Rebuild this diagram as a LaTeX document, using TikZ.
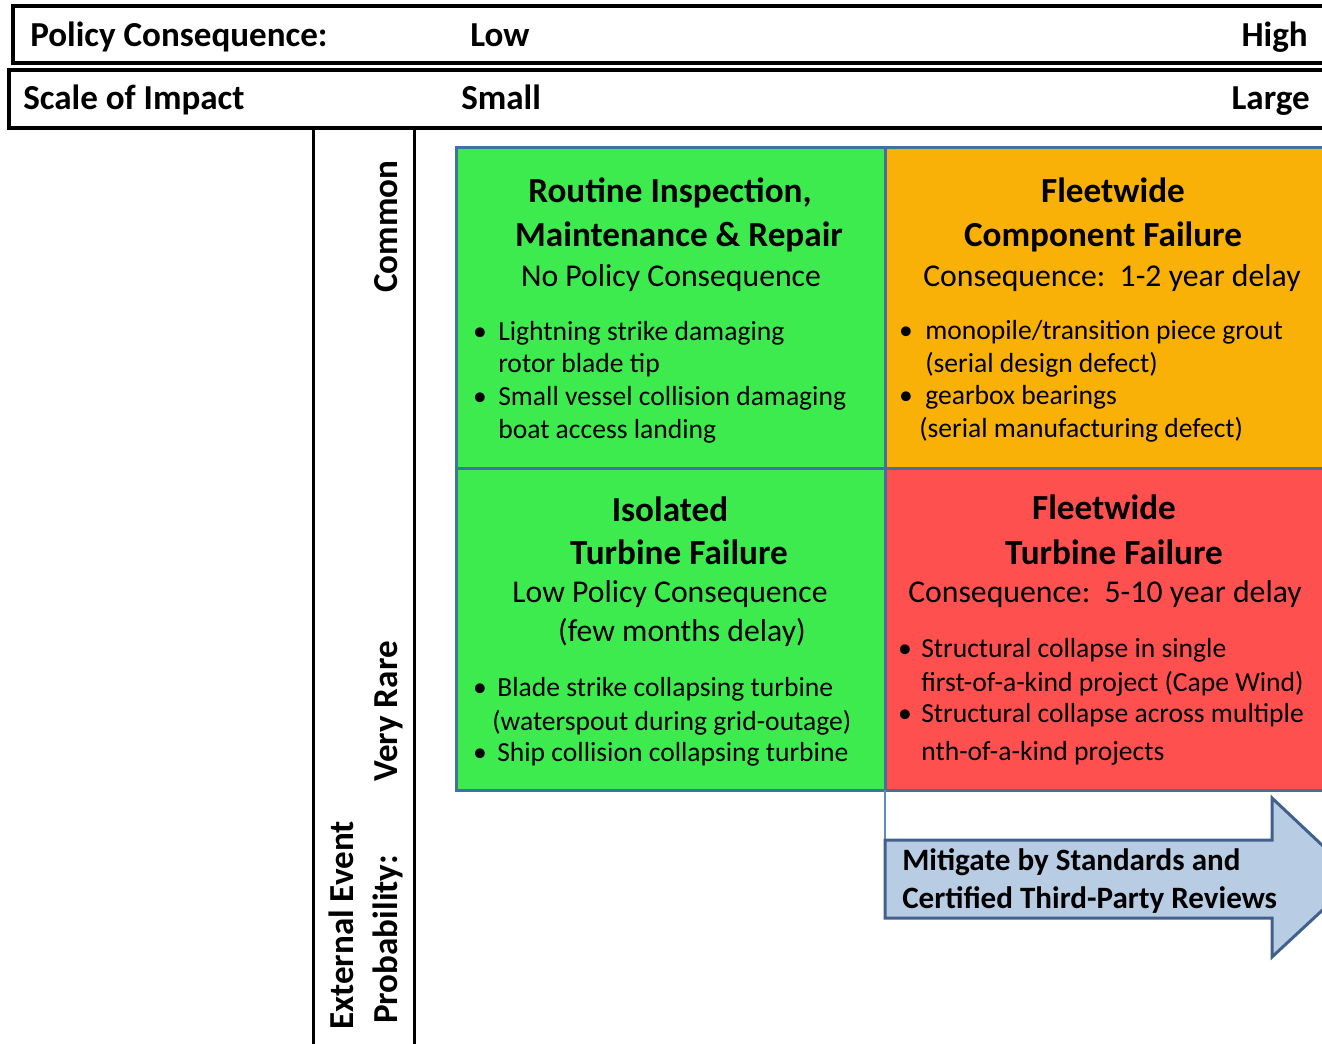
\documentclass[tikz,border=0pt]{standalone}
\usepackage{fontspec}
\setmainfont{Carlito}
\definecolor{cgreen}{RGB}{61,235,79}
\definecolor{corange}{RGB}{249,177,8}
\definecolor{cred}{RGB}{255,80,80}
\definecolor{cborder}{RGB}{65,113,156}
\definecolor{afill}{RGB}{184,204,228}
\definecolor{aline}{RGB}{65,97,140}
\definecolor{thinblue}{RGB}{91,140,200}
\begin{document}
\begin{tikzpicture}[x=0.75pt,y=-0.75pt,
  hdr/.style={font=\fontsize{26.3}{31}\selectfont\bfseries, inner sep=0},
  vtx/.style={font=\fontsize{26.3}{31}\selectfont\bfseries, inner sep=0, rotate=90, anchor=base west},
  ttl/.style={font=\fontsize{26.4}{31}\selectfont\bfseries, inner sep=0, anchor=base},
  sub/.style={font=\fontsize{23.8}{28}\selectfont, inner sep=0, anchor=base},
  itm/.style={font=\fontsize{20.7}{25}\selectfont, inner sep=0, anchor=base west},
  bul/.style={font=\fontsize{20.7}{25}\selectfont, inner sep=0, anchor=base},
  arr/.style={font=\fontsize{23.3}{28}\selectfont\bfseries, inner sep=0, anchor=base west},
  boxline/.style={draw=black, line width=3.5pt*0.75},
  gridline/.style={draw=cborder, line width=3pt*0.75},
  arrowshape/.style={fill=afill, draw=aline, line width=3pt*0.75, line join=miter},
]
\useasboundingbox (0,0) rectangle (1322,1044);
\clip (0,0) rectangle (1322,1044);
\fill[white] (0,0) rectangle (1322,1044);

% header boxes
\draw[boxline] (13,6) rectangle (1345,63);
\draw[boxline] (9,70) rectangle (1345,128);
\node[hdr, anchor=base west] (pc) at (30,47) {Policy Consequence:};
\node[hdr, anchor=base west] (low) at (470,47) {Low};
\node[hdr, anchor=base east] (high) at (1308,47) {High};
\node[hdr, anchor=base west] (soi) at (23,110) {Scale of Impact};
\node[hdr, anchor=base west] (small) at (461,110) {Small};
\node[hdr, anchor=base east] (large) at (1310,110) {Large};

% probability column
\draw[boxline] (313.5,128) -- (313.5,1060);
\draw[boxline] (414.5,128) -- (414.5,1060);
\node[vtx] (common) at (397,293) {Common};
\node[vtx] (rare) at (397,782) {Very Rare};
\node[vtx] (ext) at (353,1030) {External Event};
\node[vtx] (prob) at (397,1024) {Probability:};

% cells
\fill[cgreen] (456,148) rectangle (885,469);
\fill[corange] (885,148) rectangle (1345,469);
\fill[cgreen] (456,469) rectangle (885,790);
\fill[cred] (885,469) rectangle (1345,790);
\draw[gridline] (456,148) rectangle (1345,790);
\draw[gridline] (456,469) -- (1345,469);
\draw[gridline] (885,148) -- (885,790);

% cell 1
\node[ttl] (t1a) at (670,203) {Routine Inspection,};
\node[ttl] (t1b) at (679,247) {Maintenance \& Repair};
\node[sub] (s1) at (671,287) {No Policy Consequence};
\node[bul] (b1a) at (480,341) {•};
\node[itm] (i1a) at (498,341) {Lightning strike damaging};
\node[itm] (i1b) at (498,373) {rotor blade tip};
\node[bul] (b1b) at (480,406) {•};
\node[itm] (i1c) at (498,406) {Small vessel collision damaging};
\node[itm] (i1d) at (498,439) {boat access landing};

% cell 2
\node[ttl] (t2a) at (1113,203) {Fleetwide};
\node[ttl] (t2b) at (1103,247) {Component Failure};
\node[sub] (s2) at (1112,287) {Consequence:\ \ 1-2 year delay};
\node[bul] (b2a) at (906,340) {•};
\node[itm] (i2a) at (925,340) {monopile/transition piece grout};
\node[itm] (i2b) at (925,373) {(serial design defect)};
\node[bul] (b2b) at (906,405) {•};
\node[itm] (i2c) at (925,405) {gearbox bearings};
\node[itm] (i2d) at (919,438) {(serial manufacturing defect)};

% cell 3
\node[ttl] (t3a) at (670,522) {Isolated};
\node[ttl] (t3b) at (679,565) {Turbine Failure};
\node[sub] (s3a) at (670,603) {Low Policy Consequence};
\node[sub] (s3b) at (682,642) {(few months delay)};
\node[bul] (b3a) at (480,697) {•};
\node[itm] (i3a) at (497,697) {Blade strike collapsing turbine};
\node[itm] (i3b) at (492,730) {(waterspout during grid-outage)};
\node[bul] (b3b) at (480,762) {•};
\node[itm] (i3c) at (497,762) {Ship collision collapsing turbine};

% cell 4
\node[ttl] (t4a) at (1104,520) {Fleetwide};
\node[ttl] (t4b) at (1114,565) {Turbine Failure};
\node[sub] (s4) at (1105,603) {Consequence:\ \ 5-10 year delay};
\node[bul] (b4a) at (905,658) {•};
\node[itm] (i4a) at (921,658) {Structural collapse in single};
\node[itm] (i4b) at (921,692) {first-of-a-kind project (Cape Wind)};
\node[bul] (b4b) at (905,723) {•};
\node[itm] (i4c) at (921,723) {Structural collapse across multiple};
\node[itm] (i4d) at (921,760) {nth-of-a-kind projects};

% arrow
\draw[thinblue, line width=2pt*0.75] (885,790) -- (885,840);
\draw[arrowshape] (885,840) -- (1272,840) -- (1272,798) -- (1357,878) -- (1272,957) -- (1272,918) -- (885,918) -- cycle;
\node[arr] (a1) at (902,870) {Mitigate by Standards and};
\node[arr] (a2) at (902,908) {Certified Third-Party Reviews};
\end{tikzpicture}
\end{document}
